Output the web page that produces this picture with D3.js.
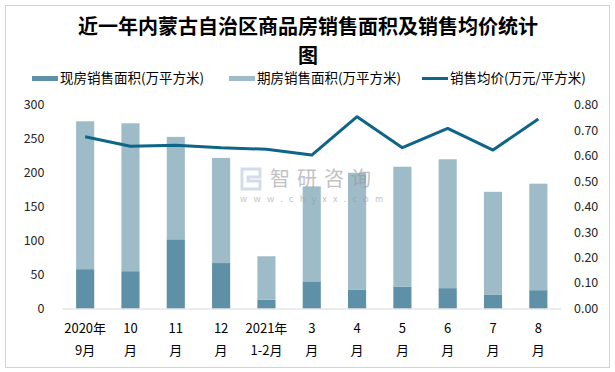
<!DOCTYPE html>
<html>
<head>
<meta charset="utf-8">
<script src="https://cdn.jsdelivr.net/npm/d3@7"></script>
<style>
  body { margin: 0; background: #fff; }
  text { font-family: "Noto Sans CJK SC", "DejaVu Sans", sans-serif; }
</style>
</head>
<body>
<div id="chart"></div>
<script>
// data
var months = ["2020年|9月", "10|月", "11|月", "12|月", "2021年|1-2月", "3|月", "4|月", "5|月", "6|月", "7|月", "8|月"];
var existing = [58, 55, 102, 67, 13, 40, 28, 32, 30, 20, 27];
var forward = [218, 218, 151, 155, 64, 140, 172, 177, 190, 152, 157];
var avgPrice = [0.675, 0.638, 0.642, 0.632, 0.626, 0.603, 0.754, 0.632, 0.708, 0.623, 0.745];
var leftTicks = [0, 50, 100, 150, 200, 250, 300];
var rightTicks = [0, 0.1, 0.2, 0.3, 0.4, 0.5, 0.6, 0.7, 0.8];

var W = 615, H = 372;
var margin = { top: 105, right: 54, bottom: 63.5, left: 62.5 };
var width = W - margin.left - margin.right;
var height = H - margin.top - margin.bottom;

var svg = d3.select("#chart").append("svg")
    .attr("width", W)
    .attr("height", H);

// outer border
svg.append("rect")
    .attr("x", 5.5).attr("y", 5.5)
    .attr("width", 604).attr("height", 362)
    .attr("fill", "none")
    .attr("stroke", "#a6a6a6")
    .attr("stroke-dasharray", "1,1");

// title (two lines)
svg.append("text")
    .attr("x", 308).attr("y", 33.5)
    .attr("text-anchor", "middle")
    .style("font-size", "20px").style("font-weight", "bold")
    .text("近一年内蒙古自治区商品房销售面积及销售均价统计");
svg.append("text")
    .attr("x", 308).attr("y", 62.5)
    .attr("text-anchor", "middle")
    .style("font-size", "20px").style("font-weight", "bold")
    .text("图");

var g = svg.append("g")
    .attr("transform", "translate(" + margin.left + "," + margin.top + ")");

var x = d3.scaleBand()
    .domain(months)
    .range([0, width])
    .paddingInner(0.6)
    .paddingOuter(0.3);

var y = d3.scaleLinear().domain([0, 300]).range([height, 0]);
var y2 = d3.scaleLinear().domain([0, 0.8]).range([height, 0]);

// bars: existing (bottom) + forward (stacked)
var bars = g.selectAll(".bar").data(months).enter().append("g");

bars.append("rect")
    .attr("x", function(d) { return x(d); })
    .attr("width", x.bandwidth())
    .attr("y", function(d, i) { return y(existing[i]); })
    .attr("height", function(d, i) { return height - y(existing[i]); })
    .style("fill", "#5e90a7");

bars.append("rect")
    .attr("x", function(d) { return x(d); })
    .attr("width", x.bandwidth())
    .attr("y", function(d, i) { return y(existing[i] + forward[i]); })
    .attr("height", function(d, i) { return y(existing[i]) - y(existing[i] + forward[i]); })
    .style("fill", "#9dbcc8");

// baseline
g.append("line")
    .attr("x1", 0).attr("x2", width)
    .attr("y1", height + 0.5).attr("y2", height + 0.5)
    .attr("stroke", "#d9d9d9");

// watermark (sits over the bars)
var wm = svg.append("g").attr("opacity", 0.6);
wm.append("path")
    .attr("d", "M242,169 h18 v8 h-12 v4 h12 v8 h-18 z")
    .attr("fill", "none").attr("stroke", "#b8c6dc").attr("stroke-width", 3);
wm.append("text").attr("x", 270).attr("y", 186)
    .style("font-size", "20px").style("fill", "#9a9a9a").style("letter-spacing", "7px")
    .text("智研咨询");
wm.append("text").attr("x", 240).attr("y", 202)
    .style("font-size", "9px").style("fill", "#9a9a9a").style("letter-spacing", "6.3px")
    .text("www.chyxx.com");

// price line
var line = d3.line()
    .x(function(d, i) { return x(months[i]) + x.bandwidth() / 2; })
    .y(function(d) { return y2(d); });

g.append("path")
    .datum(avgPrice)
    .attr("d", line)
    .attr("fill", "none")
    .attr("stroke", "#0f6587")
    .attr("stroke-width", 3)
    .attr("stroke-linejoin", "round");

// left axis labels
g.selectAll(".ly").data(leftTicks).enter().append("text")
    .attr("x", -18)
    .attr("y", function(d) { return y(d); })
    .attr("dy", "0.35em")
    .attr("text-anchor", "end")
    .style("font-size", "12.5px").style("fill", "#262626")
    .text(function(d) { return d; });

// right axis labels
g.selectAll(".ry").data(rightTicks).enter().append("text")
    .attr("x", width + 13)
    .attr("y", function(d) { return y2(d); })
    .attr("dy", "0.35em")
    .style("font-size", "12.5px").style("fill", "#262626")
    .text(function(d) { return d.toFixed(2); });

// x labels, two lines each
var xl = g.selectAll(".xl").data(months).enter().append("text")
    .attr("text-anchor", "middle")
    .style("font-size", "13px").style("fill", "#000");
xl.append("tspan")
    .attr("x", function(d) { return x(d) + x.bandwidth() / 2; })
    .attr("y", height + 24)
    .text(function(d) { return d.split("|")[0]; });
xl.append("tspan")
    .attr("x", function(d) { return x(d) + x.bandwidth() / 2; })
    .attr("y", height + 46)
    .text(function(d) { return d.split("|")[1]; });

// legend
var legendItems = [
    { label: "现房销售面积(万平方米)", color: "#5e90a7", type: "rect", x: 32 },
    { label: "期房销售面积(万平方米)", color: "#9dbcc8", type: "rect", x: 229 },
    { label: "销售均价(万元/平方米)", color: "#0f6587", type: "line", x: 422 }
];
var legend = svg.selectAll(".legend").data(legendItems).enter().append("g")
    .attr("transform", function(d) { return "translate(" + d.x + ",78.5)"; });
legend.each(function(d) {
    var el = d3.select(this);
    if (d.type === "rect") {
        el.append("rect").attr("x", 0).attr("y", -2.5).attr("width", 26).attr("height", 5).style("fill", d.color);
    } else {
        el.append("line").attr("x1", 0).attr("x2", 26).attr("y1", 0).attr("y2", 0)
            .attr("stroke", d.color).attr("stroke-width", 3);
    }
    el.append("text").attr("x", 28).attr("y", 0).attr("dy", "0.35em")
        .style("font-size", "13.5px").style("fill", "#000")
        .text(d.label);
});
</script>
</body>
</html>
